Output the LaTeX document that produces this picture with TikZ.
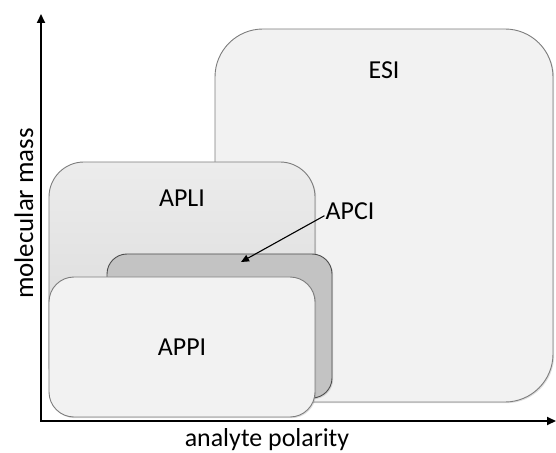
\documentclass[tikz,border=0pt]{standalone}
\usepackage{fontspec}
\setmainfont{Carlito}
\usetikzlibrary{positioning,arrows.meta,shadows}
\definecolor{boxColor}{RGB}{242,242,242}
\definecolor{edgeColor}{RGB}{125,125,125}
\definecolor{apliTop}{RGB}{236,236,236}
\definecolor{apliBottom}{RGB}{214,214,214}
\definecolor{apciColor}{RGB}{195,195,195}

\begin{document}
\begin{tikzpicture}[x=1bp,y=-1bp]
  	\tikzstyle{region} = [rectangle,draw=edgeColor,line width=0.9bp,inner sep=0pt,
  	  drop shadow={shadow xshift=1.2bp,shadow yshift=-1.2bp,opacity=.25}]
  	\tikzstyle{tag} = [font=\fontsize{26}{30}\selectfont,inner sep=0pt]
  	\tikzstyle{axis} = [line width=2bp,->]
  	\tikzset{>={Triangle[length=9bp,width=8bp]}}

	  \useasboundingbox (0,0) rectangle (556,453);

	  % regions, back to front
	  \node [region,fill=boxColor,minimum width=338bp,minimum height=373bp,rounded corners=48bp] (esi) at (384,215.5) {};
	  \node [region,top color=apliTop,bottom color=apliBottom,minimum width=266bp,minimum height=238bp,rounded corners=35bp] (apli) at (182,281) {};
	  \node [region,fill=apciColor,draw=black!70,minimum width=225bp,minimum height=144bp,rounded corners=20bp] (apci) at (219.5,326) {};
	  \node [region,fill=boxColor,minimum width=266bp,minimum height=140bp,rounded corners=25bp] (appi) at (182,347) {};

	  \node [tag, below=33bp of esi.north] (esitag) {ESI};
	  \node [tag, below=28bp of apli.north] (aplitag) {APLI};
	  \node [tag, right=10bp of apli.east, anchor=west, yshift=70bp] (apcitag) {APCI};
	  \node [tag] (appitag) at (appi) {APPI};

	  \coordinate (apcitip) at (241,262);
	  \draw [line width=1.1bp,-{Triangle[length=8bp,width=7bp]}] (apcitag.south west) ++(-1bp,4bp) -- (apcitip);

	  % axes
	  \coordinate (origin) at (41,421);
	  \coordinate (ytop) at (41,14);
	  \coordinate (xend) at (556,421);
	  \draw [axis] (origin) -- (ytop);
	  \draw [axis] ([xshift=-1bp]origin) -- (xend);

	  \node [tag, font=\fontsize{27}{31}\selectfont, rotate=90, anchor=base] (ylab) at (33,213.5) {molecular mass};
	  \node [tag, anchor=base] (xlab) at (267,446.5) {analyte polarity};
  \end{tikzpicture}
\end{document}
